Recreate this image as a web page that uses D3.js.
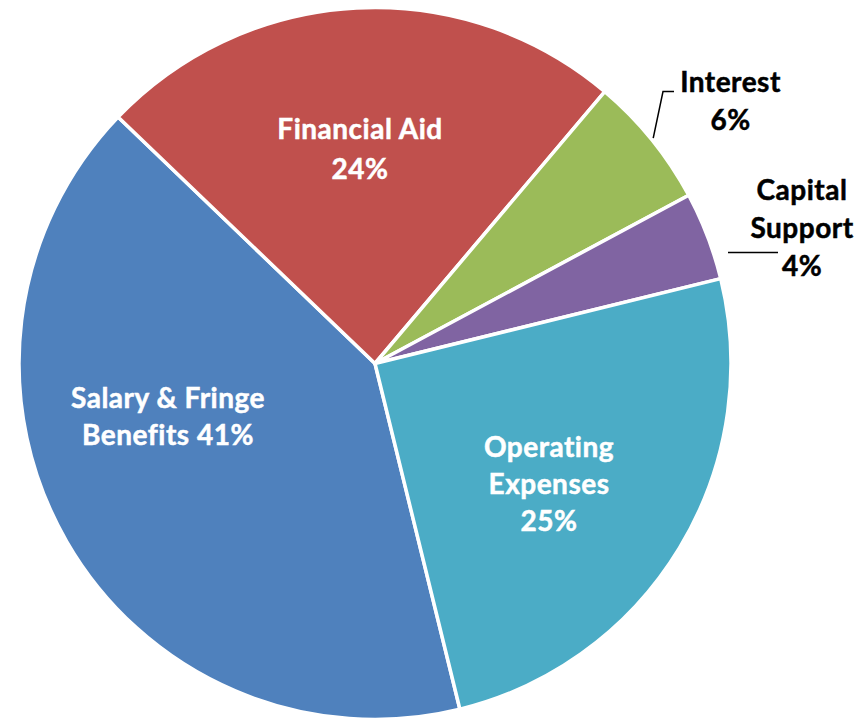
<!DOCTYPE html>
<html>
<head>
<meta charset="utf-8">
<script src="https://cdn.jsdelivr.net/npm/d3@7"></script>
<style>
  html, body { margin: 0; padding: 0; background: #ffffff; }
  svg { display: block; }
  text { font-family: Lato, "Open Sans", sans-serif; font-weight: 700; }
</style>
</head>
<body>
<svg id="chart" width="867" height="720"></svg>
<script>
// Budget share by category (percent)
const categories = ["Salary & Fringe Benefits", "Financial Aid", "Interest", "Capital Support", "Operating Expenses"];
const shares = [41, 24, 6, 4, 25];
const colors = ["#4F81BD", "#C0504D", "#9BBB59", "#8064A2", "#4BACC6"];
// Label text lines for each slice
const labelLines = [
  ["Salary & Fringe", "Benefits 41%"],
  ["Financial Aid", "24%"],
  ["Interest", "6%"],
  ["Capital", "Support", "4%"],
  ["Operating", "Expenses", "25%"]
];

const width = 867, height = 720;
const cx = 375, cy = 363.5, radius = 356;
const firstSliceAngle = 166.2 * Math.PI / 180;

// Label layout: centre x offset and first baseline offset from pie centre, line step
const labelLayout = [
  { dx: -207, dy: 44, step: 37, fill: "#ffffff" },
  { dx: -15, dy: -224.5, step: 40, fill: "#ffffff" },
  { dx: 355.5, dy: -271.5, step: 38, fill: "#000000" },
  { dx: 427, dy: -163.5, step: 38, fill: "#000000" },
  { dx: 174, dy: 93, step: 37, fill: "#ffffff" }
];

const svg = d3.select("#chart");
const g = svg.append("g").attr("transform", `translate(${cx},${cy})`);

const pie = d3.pie()
  .value(d => d)
  .sort(null)
  .startAngle(firstSliceAngle)
  .endAngle(firstSliceAngle + 2 * Math.PI);

const arcs = pie(shares);
const arc = d3.arc().innerRadius(0).outerRadius(radius);

g.selectAll("path.slice")
  .data(arcs)
  .join("path")
  .attr("class", "slice")
  .attr("d", arc)
  .attr("fill", (d, i) => colors[i])
  .attr("stroke", "#ffffff")
  .attr("stroke-width", 3.5)
  .attr("stroke-linejoin", "round");

// Leader lines for the two narrow slices
const edgeArc = d3.arc().innerRadius(radius + 2).outerRadius(radius + 2);
const interestEdge = edgeArc.centroid(arcs[2]);
const leaderInterest = [interestEdge, [288, -272], [299, -272]];
g.append("path")
  .attr("d", d3.line()(leaderInterest))
  .attr("fill", "none")
  .attr("stroke", "#000000")
  .attr("stroke-width", 1.5);

const leaderCapital = [[353, -111], [403, -111]];
g.append("path")
  .attr("d", d3.line()(leaderCapital))
  .attr("fill", "none")
  .attr("stroke", "#000000")
  .attr("stroke-width", 1.5);

// Data labels
labelLines.forEach((lines, i) => {
  const L = labelLayout[i];
  const t = g.append("text")
    .attr("text-anchor", "middle")
    .attr("font-size", 28)
    .attr("letter-spacing", 0.5)
    .attr("fill", L.fill)
    .attr("stroke", L.fill)
    .attr("stroke-width", 0.5);
  lines.forEach((line, j) => {
    t.append("tspan")
      .attr("x", L.dx)
      .attr("y", L.dy + j * L.step)
      .text(line);
  });
});
</script>
</body>
</html>
